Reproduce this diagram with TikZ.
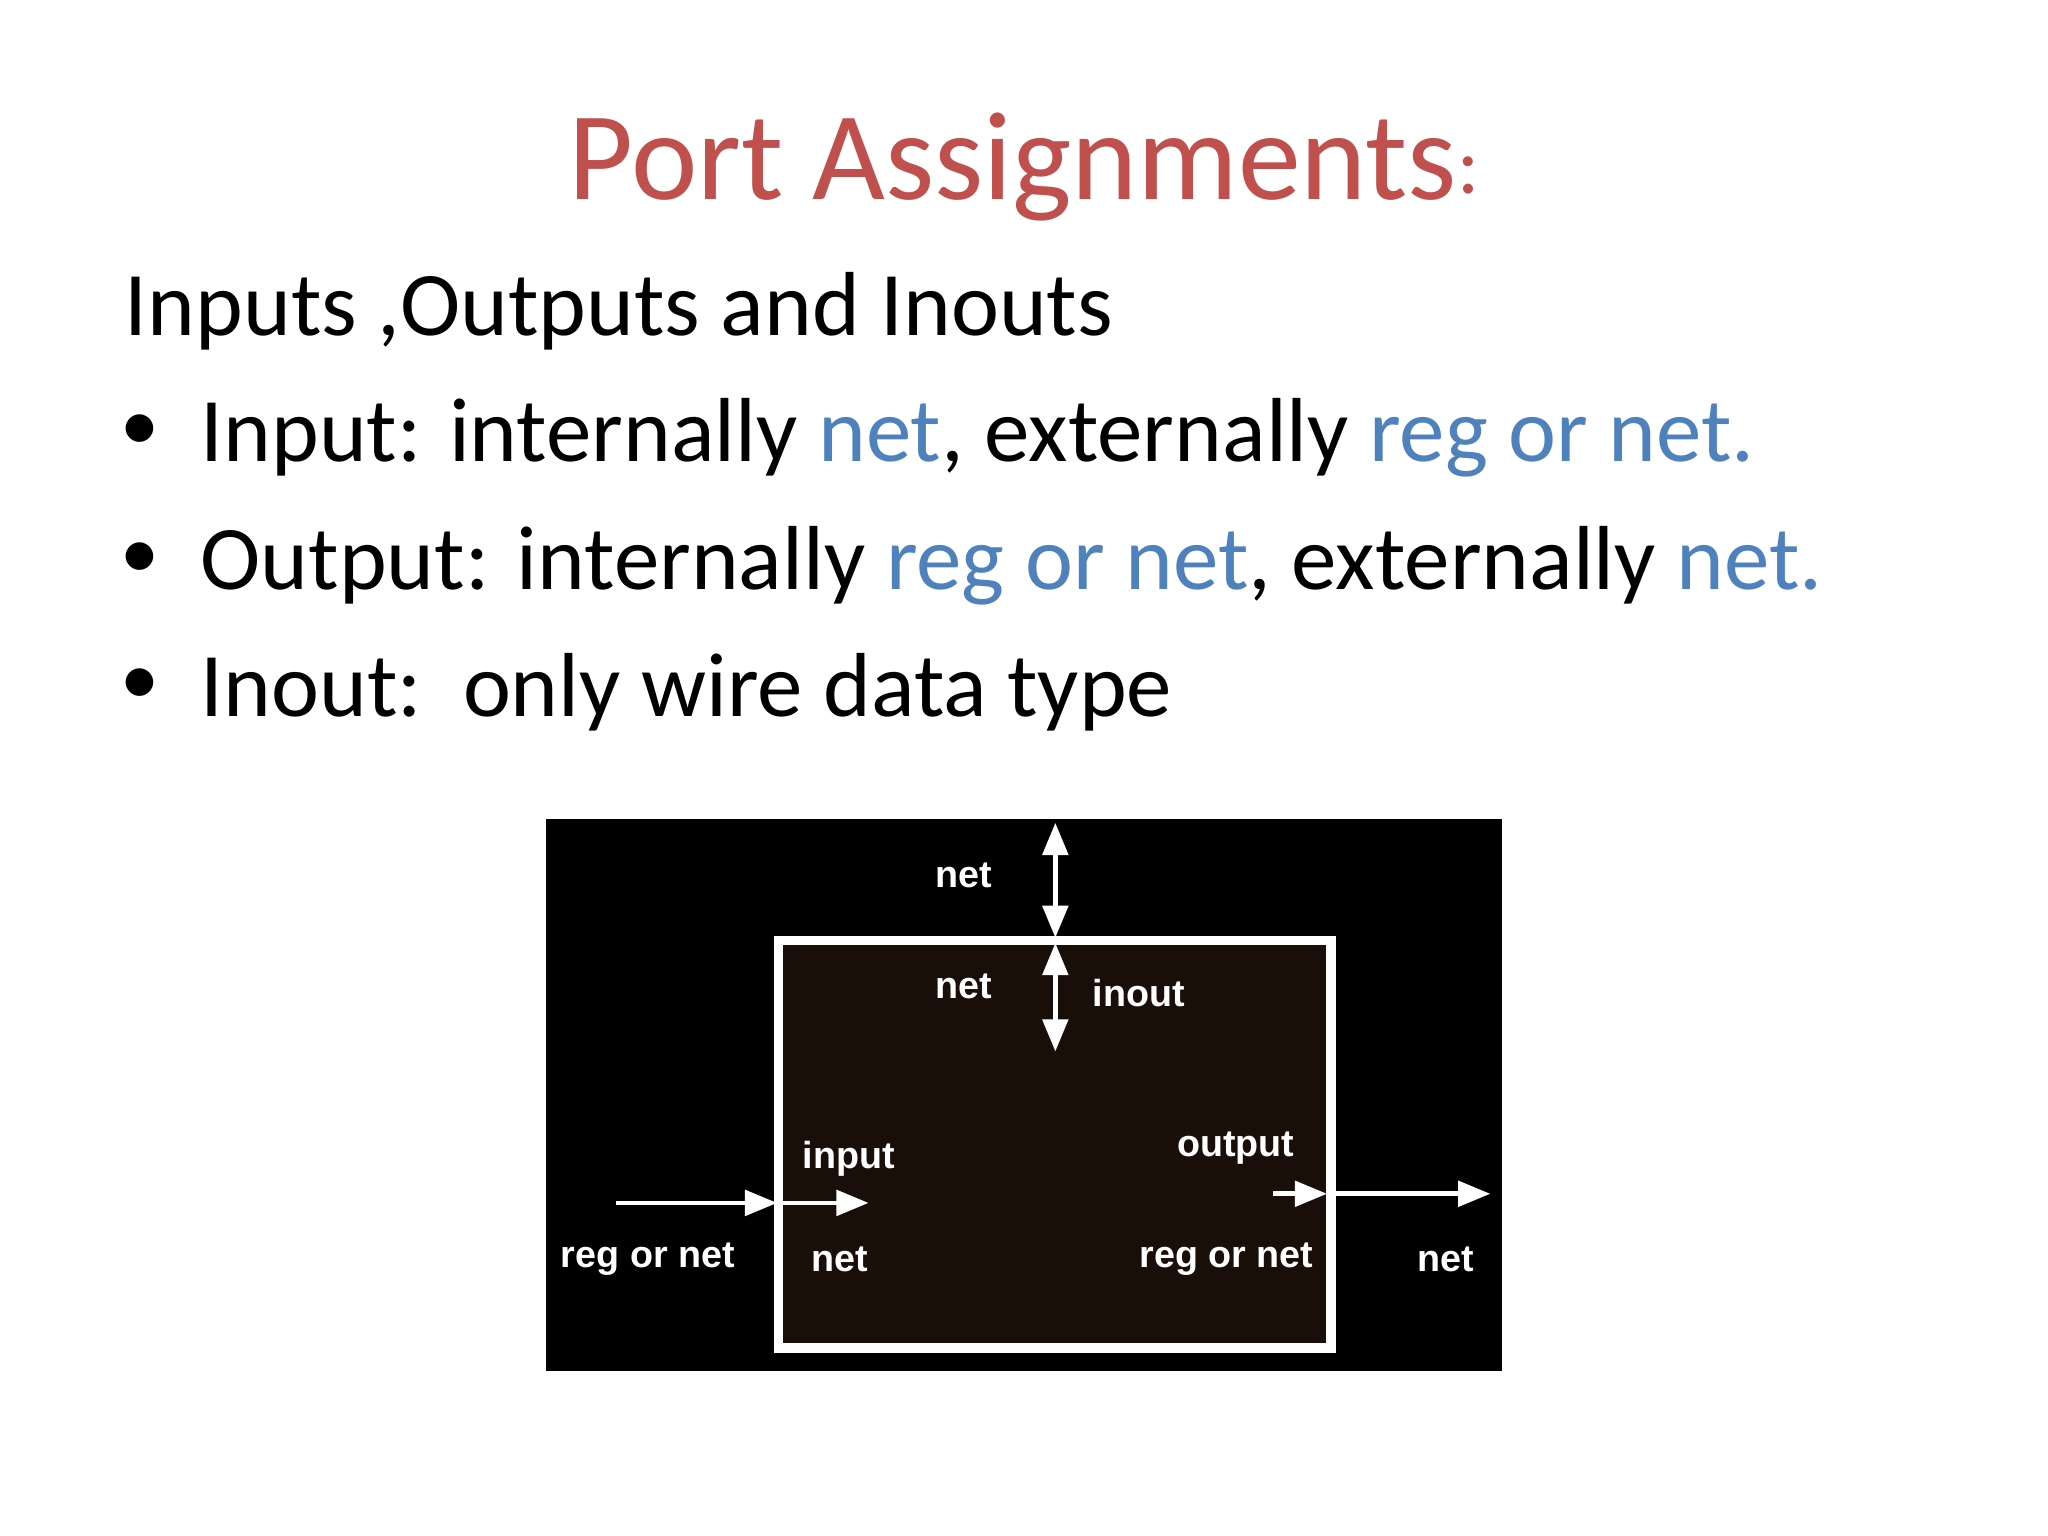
\documentclass[tikz,border=0pt]{standalone}
\usepackage{fontspec}
\setmainfont{Carlito}
\newfontfamily\lab{Liberation Sans}
\usetikzlibrary{arrows.meta}
\definecolor{ttl}{HTML}{C0504D}
\definecolor{blu}{HTML}{4F81BD}
\definecolor{boxfill}{HTML}{1A0F08}
\tikzset{
  lbl/.style={text=white,font=\lab\bfseries\fontsize{8.2}{10}\selectfont,inner sep=0pt},
  body/.style={anchor=west,font=\fontsize{19.8}{24}\selectfont,inner sep=0pt},
  bul/.style={font=\fontsize{17}{20}\selectfont,inner sep=0pt},
  wire/.style={white,line width=1pt,-{Triangle[length=7pt,width=5.5pt]}},
  dwire/.style={white,line width=1pt,{Triangle[length=7pt,width=5.5pt]}-{Triangle[length=7pt,width=5.5pt]}}
}
\begin{document}
\begin{tikzpicture}[x=0.01cm,y=-0.01cm]
\useasboundingbox (0,0) rectangle (1568,1176);
\fill[white] (0,0) rectangle (1568,1176);
\node[font=\fontsize{27.4}{32}\selectfont,text=ttl,inner sep=0pt] (title) at (784,128) {Port Assignments\raisebox{0.1ex}{\fontsize{18}{22}\selectfont:}};
\node[body] (l0) at (95,238) {Inputs ,Outputs and Inouts};
\node[bul] (b1) at (107,331) {\textbullet};
\node[bul] (b2) at (107,429) {\textbullet};
\node[bul] (b3) at (107,526) {\textbullet};
\node[body] (l1) at (153,335) {Input: internally \textcolor{blu}{net}, externally \textcolor{blu}{reg or net.}};
\node[body] (l2) at (153,433) {Output: internally \textcolor{blu}{reg or net}, externally \textcolor{blu}{net.}};
\node[body] (l3) at (153,530) {Inout:\ \ only wire data type};
\fill[black] (418,627) rectangle (1150,1050);
\draw[white,line width=2pt,fill=boxfill] (596,720) rectangle (1019,1032);
\coordinate (t0) at (808,630); \coordinate (t1) at (808,718);
\coordinate (t2) at (808,722); \coordinate (t3) at (808,805);
\draw[dwire] (t0) -- (t1);
\draw[dwire] (t2) -- (t3);
\coordinate (i0) at (472,921); \coordinate (i1) at (595,921); \coordinate (i2) at (665,921);
\draw[wire] (i0) -- (i1); \draw[wire] (i1) -- (i2);
\coordinate (o0) at (975,914); \coordinate (o1) at (1016,914); \coordinate (o2) at (1141,914);
\draw[wire] (o0) -- (o1); \draw[wire] (o1) -- (o2);
\node[lbl] (n1) at (738,670) {net};
\node[lbl] (n2) at (738,755) {net};
\node[lbl] (n3) at (872,760) {inout};
\node[lbl] (n4) at (650,887) {input};
\node[lbl] (n5) at (946,879) {output};
\node[lbl] (n6) at (496,964) {reg or net};
\node[lbl] (n7) at (643,964) {net};
\node[lbl] (n8) at (939,964) {reg or net};
\node[lbl] (n9) at (1107,964) {net};
\end{tikzpicture}
\end{document}
